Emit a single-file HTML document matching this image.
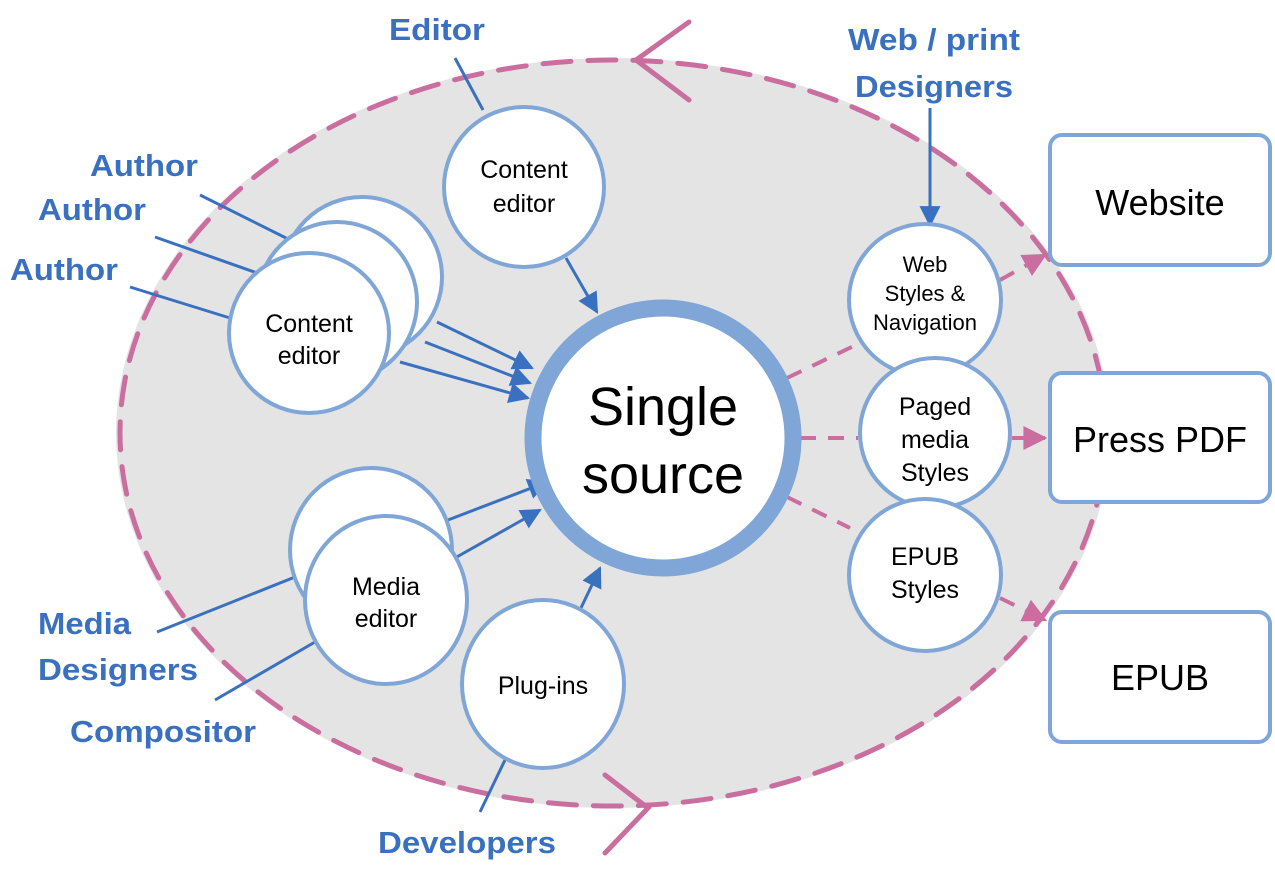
<!DOCTYPE html>
<html><head><meta charset="utf-8"><style>
html,body{margin:0;padding:0;background:#fff;}
svg{display:block;}
.lbl{font-family:"Liberation Sans",sans-serif;font-weight:bold;font-size:31px;fill:#3a70c0;}
.t{font-family:"Liberation Sans",sans-serif;fill:#000;text-anchor:middle;}
</style></head><body>
<svg width="1275" height="872" viewBox="0 0 1275 872" xmlns="http://www.w3.org/2000/svg">
<defs>
<marker id="ab2" viewBox="0 0 10 10" refX="9" refY="5" markerWidth="7" markerHeight="7" orient="auto"><path d="M0,0 L10,5 L0,10 z" fill="#3a70c0"/></marker>
<marker id="ap" viewBox="0 0 10 10" refX="9" refY="5" markerWidth="6.5" markerHeight="6" orient="auto"><path d="M0,0 L10,5 L0,10 z" fill="#c96e9f"/></marker>
</defs>
<ellipse cx="613" cy="433" rx="497" ry="375" fill="#e4e4e4"/>
<ellipse cx="613" cy="433" rx="493" ry="373" fill="none" stroke="#c96e9f" stroke-width="5" stroke-dasharray="28,17" stroke-linecap="round"/>
<g stroke="#c96e9f" stroke-width="5" stroke-linecap="round" fill="none">
<path d="M689,22 L636,60 L689,100"/>
<path d="M605,775 L648,808 L605,853"/>
</g>
<g fill="#fff" stroke="#7fa6d6" stroke-width="4">
<rect x="1050" y="135" width="220" height="130" rx="12"/>
<rect x="1050" y="373" width="220" height="129" rx="12"/>
<rect x="1050" y="612" width="220" height="130" rx="12"/>
</g>
<g class="t" font-size="36"><text x="1160" y="215">Website</text><text x="1160" y="452">Press PDF</text><text x="1160" y="690">EPUB</text></g>
<g stroke="#3a70c0" stroke-width="3" fill="none">
<line x1="455" y1="58" x2="483" y2="110"/>
<line x1="200" y1="195" x2="290" y2="240"/>
<line x1="155" y1="237" x2="260" y2="274"/>
<line x1="130" y1="287" x2="230" y2="318"/>
<line x1="157" y1="632" x2="295" y2="577"/>
<line x1="215" y1="700" x2="315" y2="642"/>
<line x1="480" y1="812" x2="505" y2="760"/>
<line x1="930" y1="108" x2="930" y2="225" marker-end="url(#ab2)"/>
<line x1="566" y1="258" x2="597" y2="312" marker-end="url(#ab2)"/>
<line x1="437" y1="322" x2="532" y2="368" marker-end="url(#ab2)"/>
<line x1="425" y1="342" x2="530" y2="383" marker-end="url(#ab2)"/>
<line x1="400" y1="362" x2="528" y2="398" marker-end="url(#ab2)"/>
<line x1="448" y1="520" x2="547" y2="482" marker-end="url(#ab2)"/>
<line x1="455" y1="558" x2="540" y2="510" marker-end="url(#ab2)"/>
<line x1="580" y1="610" x2="600" y2="568" marker-end="url(#ab2)"/>
</g>
<g stroke="#c96e9f" stroke-width="4" stroke-dasharray="16,12" fill="none">
<line x1="787" y1="378" x2="860" y2="343"/>
<line x1="1000" y1="280" x2="1045" y2="255" marker-end="url(#ap)"/>
<line x1="800" y1="438" x2="858" y2="438"/>
<line x1="1012" y1="438" x2="1045" y2="438" marker-end="url(#ap)"/>
<line x1="787" y1="497" x2="850" y2="528"/>
<line x1="1000" y1="598" x2="1045" y2="620" marker-end="url(#ap)"/>
</g>
<g fill="#fff" stroke="#7fa6d6" stroke-width="4">
<circle cx="524" cy="187" r="80"/>
<circle cx="362" cy="277" r="80"/>
<circle cx="337" cy="302" r="80"/>
<circle cx="309" cy="333" r="80"/>
<ellipse cx="371" cy="550" rx="81" ry="82"/>
<ellipse cx="386" cy="600" rx="81" ry="84"/>
<ellipse cx="543" cy="684" rx="81" ry="84"/>
<circle cx="925" cy="300" r="76"/>
<circle cx="935" cy="433" r="75"/>
<circle cx="925" cy="575" r="76"/>
</g>
<circle cx="663" cy="438" r="130" fill="#fff" stroke="#7fa6d6" stroke-width="17"/>
<g class="t" font-size="25">
<text x="524" y="178">Content</text><text x="524" y="212">editor</text>
<text x="309" y="332">Content</text><text x="309" y="364">editor</text>
<text x="386" y="595">Media</text><text x="386" y="627">editor</text>
<text x="543" y="694">Plug-ins</text>
<text x="935" y="415">Paged</text><text x="935" y="448">media</text><text x="935" y="481">Styles</text>
<text x="925" y="565">EPUB</text><text x="925" y="598">Styles</text>
</g>
<g class="t" font-size="22">
<text x="925" y="272">Web</text><text x="925" y="301">Styles &amp;</text><text x="925" y="330">Navigation</text>
</g>
<g class="t" font-size="54"><text x="663" y="425">Single</text><text x="663" y="493">source</text></g>
<g lengthAdjust="spacingAndGlyphs">
<text class="lbl" x="389" y="40" textLength="96" lengthAdjust="spacingAndGlyphs">Editor</text>
<text class="lbl" x="848" y="50" textLength="172" lengthAdjust="spacingAndGlyphs">Web / print</text>
<text class="lbl" x="855" y="97" textLength="158" lengthAdjust="spacingAndGlyphs">Designers</text>
<text class="lbl" x="90" y="176" textLength="108" lengthAdjust="spacingAndGlyphs">Author</text>
<text class="lbl" x="38" y="220" textLength="108" lengthAdjust="spacingAndGlyphs">Author</text>
<text class="lbl" x="10" y="280" textLength="108" lengthAdjust="spacingAndGlyphs">Author</text>
<text class="lbl" x="38" y="634" textLength="93" lengthAdjust="spacingAndGlyphs">Media</text>
<text class="lbl" x="38" y="680" textLength="160" lengthAdjust="spacingAndGlyphs">Designers</text>
<text class="lbl" x="70" y="742" textLength="186" lengthAdjust="spacingAndGlyphs">Compositor</text>
<text class="lbl" x="378" y="853" textLength="178" lengthAdjust="spacingAndGlyphs">Developers</text>
</g>
</svg>
</body></html>
